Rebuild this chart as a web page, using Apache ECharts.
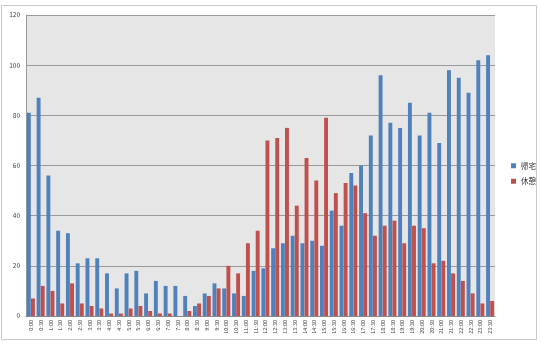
<!DOCTYPE html>
<html><head><meta charset="utf-8">
<script src="https://cdn.jsdelivr.net/npm/echarts@6/dist/echarts.min.js"></script>
<style>html,body{margin:0;padding:0;background:#fff}#c{width:541px;height:342px}</style>
</head><body><div id="c"></div>
<script>
const categories = ['0:00','0:30','1:00','1:30','2:00','2:30','3:00','3:30','4:00','4:30','5:00','5:30','6:00','6:30','7:00','7:30','8:00','8:30','9:00','9:30','10:00','10:30','11:00','11:30','12:00','12:30','13:00','13:30','14:00','14:30','15:00','15:30','16:00','16:30','17:00','17:30','18:00','18:30','19:00','19:30','20:00','20:30','21:00','21:30','22:00','22:30','23:00','23:30'];
const kitaku = [81,87,56,34,33,21,23,23,17,11,17,18,9,14,12,12,8,4,9,13,11,9,8,18,19,27,29,32,29,30,28,42,36,57,60,72,96,77,75,85,72,81,69,98,95,89,102,104];
const kyukei = [7,12,10,5,13,5,4,3,1,1,3,4,2,1,1,0,2,5,8,11,20,17,29,34,70,71,75,44,63,54,79,49,53,52,41,32,36,38,29,36,35,21,22,17,14,9,5,6];
const seriesNames = ['帰宅','休憩'];

const chart = echarts.init(document.getElementById('c'));
chart.setOption({
  animation: false,
  textStyle: {fontFamily: '"Noto Sans CJK JP", "DejaVu Sans", sans-serif'},
  graphic: [{type:'rect', shape:{x:1.5,y:5.5,width:535,height:334}, style:{fill:'none', stroke:'#c8c8c8', lineWidth:1}, z:-10}],
  grid: {left: 26, right: 46, top: 15, bottom: 26, show: true, backgroundColor: '#e6e6e6', borderWidth: 0},
  legend: {
    orient: 'vertical', left: 506, top: 157, itemWidth: 5, itemHeight: 5, itemGap: 8,
    icon: 'rect', textStyle: {fontSize: 7.5, color: '#333'}, data: seriesNames
  },
  xAxis: {
    type: 'category', data: categories,
    axisLine: {lineStyle: {color: '#888'}},
    axisTick: {show: false},
    axisLabel: {rotate: 90, fontSize: 5.5, color: '#444', interval: 0, margin: 4}
  },
  yAxis: {
    type: 'value', min: 0, max: 120, interval: 20,
    axisLine: {show: true, lineStyle: {color: '#999'}},
    axisTick: {show: false},
    axisLabel: {fontSize: 6.5, color: '#444', margin: 6},
    splitLine: {lineStyle: {color: '#9a9a9a'}}
  },
  series: [
    {name: seriesNames[0], type: 'bar', data: kitaku, itemStyle: {color: '#4f81bd'}, barGap: '5%', barCategoryGap: '18%'},
    {name: seriesNames[1], type: 'bar', data: kyukei, itemStyle: {color: '#c0504d'}}
  ]
});
</script></body></html>
